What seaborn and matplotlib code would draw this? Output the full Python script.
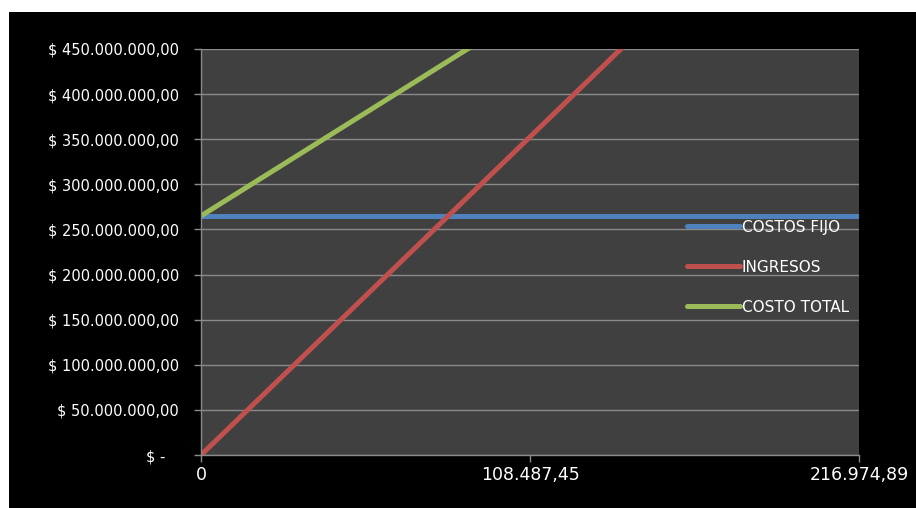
import matplotlib
matplotlib.use("Agg")
import matplotlib.pyplot as plt
from matplotlib.patches import Rectangle
from matplotlib.transforms import ScaledTranslation
import seaborn as sns
import pandas as pd

# ---- data ----
cantidades = [0, 108487.45, 216974.89]
x_labels = ["0", "108.487,45", "216.974,89"]
costos_fijo = [265e6, 265e6, 265e6]
ingresos = [0, 352.6e6, 705.2e6]
costo_total = [265e6, 493.4e6, 721.8e6]
series_names = ["COSTOS FIJO", "INGRESOS", "COSTO TOTAL"]
y_ticks = [0, 50e6, 100e6, 150e6, 200e6, 250e6, 300e6, 350e6, 400e6, 450e6]
y_labels = ["$ -   ", "$ 50.000.000,00", "$ 100.000.000,00", "$ 150.000.000,00",
            "$ 200.000.000,00", "$ 250.000.000,00", "$ 300.000.000,00",
            "$ 350.000.000,00", "$ 400.000.000,00", "$ 450.000.000,00"]

df = pd.DataFrame({
    "cantidad": cantidades * 3,
    "valor": costos_fijo + ingresos + costo_total,
    "serie": [series_names[0]] * 3 + [series_names[1]] * 3 + [series_names[2]] * 3,
})

sns.set_theme(style="dark")
plt.rcParams['font.family'] = ['DejaVu Sans']

W, H = 916, 508
fig = plt.figure(figsize=(W / 100, H / 100), dpi=100, facecolor="white")
fig.add_artist(Rectangle((9 / W, 0), 1 - 9 / W, (H - 12) / H,
                         transform=fig.transFigure, facecolor="black",
                         edgecolor="none", zorder=-10))

ax = fig.add_axes([201 / W, (H - 455) / H, (859 - 201) / W, (455 - 49) / H])
ax.set_facecolor("#404040")
ax.set_zorder(1)

palette = {"COSTOS FIJO": "#4F81BD", "INGRESOS": "#C0504D", "COSTO TOTAL": "#9BBB59"}
sns.lineplot(data=df, x="cantidad", y="valor", hue="serie", palette=palette,
             linewidth=3.6, ax=ax, legend=True, solid_capstyle="butt")

ax.set_xlim(cantidades[0], cantidades[-1])
ax.set_ylim(0, 450e6)
ax.set_xlabel("")
ax.set_ylabel("")

ax.set_yticks(y_ticks)
ax.set_yticklabels(y_labels, color="white", fontsize=10.5)
ax.set_xticks(cantidades)
ax.set_xticklabels(x_labels, color="white", fontsize=12.5)

# nudge x labels slightly to the right like the reference
offsets = [2, 4, 10]
for lab, dx in zip(ax.get_xticklabels(), offsets):
    lab.set_transform(lab.get_transform() + ScaledTranslation(dx / 100, 0, fig.dpi_scale_trans))

ax.grid(axis="y", color="#8a8a8a", linewidth=1.0)
ax.grid(axis="x", visible=False)
ax.set_axisbelow(True)

ax.tick_params(axis="y", which="both", left=True, length=5, width=1,
               color="#8a8a8a", pad=11)
ax.tick_params(axis="x", which="both", bottom=True, length=5, width=1,
               color="#8a8a8a", pad=3)

for side in ["top", "right"]:
    ax.spines[side].set_visible(False)
for side in ["left", "bottom"]:
    ax.spines[side].set_visible(True)
    ax.spines[side].set_color("#8a8a8a")
    ax.spines[side].set_linewidth(1)

handles, labels = ax.get_legend_handles_labels()
leg = ax.legend(handles, labels, loc="upper left", bbox_to_anchor=(0.7295, 0.595),
                frameon=False, fontsize=11, labelcolor="white",
                handlelength=3.46, handletextpad=0.13, labelspacing=1.64,
                borderaxespad=0)
for line in leg.get_lines():
    line.set_linewidth(3.6)
    line.set_solid_capstyle("round")

fig.savefig("out.png", dpi=100, facecolor=fig.get_facecolor())
